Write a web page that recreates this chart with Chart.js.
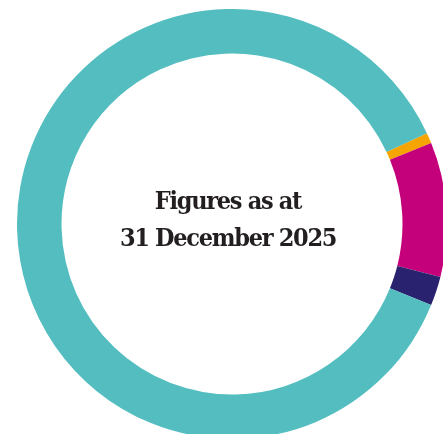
<!DOCTYPE html>
<html>
<head>
<meta charset="utf-8">
<script src="https://cdn.jsdelivr.net/npm/chart.js@4"></script>
<style>
  html, body { margin: 0; padding: 0; background: #fff; }
  body { width: 443px; height: 434px; overflow: hidden; position: relative; }
  #wrap { position: absolute; left: 16.5px; top: 9px; width: 430px; height: 430px; }
</style>
</head>
<body>
<div id="wrap"><canvas id="donut"></canvas></div>
<script>
// segments, clockwise from the orange sliver
const labels = ["Orange", "Magenta", "Navy", "Teal"];
const values = [0.8, 10.1, 2.2, 86.9];
const colours = ["#f5a400", "#c4007a", "#29236f", "#53bdc0"];
const centreLines = ["Figures as at", "31 December 2025"];

const centreText = {
    id: "centreText",
    afterDraw(chart) {
        const ctx = chart.ctx;
        const meta = chart.getDatasetMeta(0).data[0];
        const x = meta.x - 4;
        const y = meta.y;
        ctx.save();
        ctx.fillStyle = "#231f20";
        ctx.textAlign = "center";
        ctx.textBaseline = "alphabetic";
        ctx.font = "bold 25px 'DejaVu Serif Condensed', 'DejaVu Serif', serif";
        ctx.letterSpacing = "-1.3px";
        ctx.fillText(centreLines[0], x, y - 15);
        ctx.fillText(centreLines[1], x, y + 22);
        ctx.restore();
    }
};

new Chart(document.getElementById("donut").getContext("2d"), {
    type: "doughnut",
    data: {
        labels: labels,
        datasets: [{ data: values, backgroundColor: colours, borderWidth: 0 }]
    },
    options: {
        responsive: true,
        maintainAspectRatio: false,
        animation: false,
        cutout: "79.3%",
        rotation: 65,
        layout: { padding: 0 },
        plugins: { legend: { display: false }, tooltip: { enabled: false } }
    },
    plugins: [centreText]
});
</script>
</body>
</html>
